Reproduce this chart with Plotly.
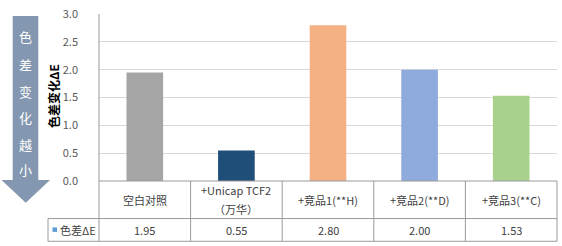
import plotly.graph_objects as go

categories = ["空白对照", "+Unicap TCF2<br>（万华）", "+竞品1(**H)", "+竞品2(**D)", "+竞品3(**C)"]
values = [1.95, 0.55, 2.80, 2.00, 1.53]
value_labels = ["1.95", "0.55", "2.80", "2.00", "1.53"]
bar_colors = ["#A5A5A5", "#1F4E79", "#F4B183", "#8FAADC", "#A9D18E"]
y_ticks = [0.0, 0.5, 1.0, 1.5, 2.0, 2.5, 3.0]
series_name = "色差ΔE"
axis_title = "色差变化ΔE"
arrow_text = "色差变化越小"

W, H = 562, 246
ML, MR, MT, MB = 99, 5, 12, 65
PW, PH = W - ML - MR, H - MT - MB
FONT = "Noto Sans CJK SC, Noto Sans, sans-serif"
LINE = "#9A9A9A"

def px(x):
    return (x - ML) / PW

def py(y):
    return (H - MB - y) / PH

n = len(categories)
xpos = list(range(n))

fig = go.Figure()
fig.add_trace(go.Bar(
    x=xpos, y=values, marker=dict(color=bar_colors, line=dict(width=0)),
    width=0.4, showlegend=False, hoverinfo="skip",
))

shapes = []
annotations = []

row_top, row_mid, row_bot = 181, 219, 242
table_left = 48
shapes.append(dict(type="line", xref="paper", yref="paper", x0=0, x1=1, y0=py(row_top), y1=py(row_top), line=dict(color=LINE, width=1)))
for yy in (row_mid, row_bot):
    shapes.append(dict(type="line", xref="paper", yref="paper", x0=px(table_left), x1=1, y0=py(yy), y1=py(yy), line=dict(color=LINE, width=1)))
shapes.append(dict(type="line", xref="paper", yref="paper", x0=0, x1=0, y0=1, y1=py(row_bot), line=dict(color=LINE, width=1)))
for i in range(1, n + 1):
    xd = i / n
    shapes.append(dict(type="line", xref="x domain", yref="paper", x0=xd, x1=xd, y0=py(row_top), y1=py(row_bot), line=dict(color=LINE, width=1)))
shapes.append(dict(type="line", xref="paper", yref="paper", x0=px(table_left), x1=px(table_left), y0=py(row_mid), y1=py(row_bot), line=dict(color=LINE, width=1)))
shapes.append(dict(type="rect", xref="paper", yref="paper", x0=px(52.5), x1=px(57), y0=py(232.5), y1=py(228), fillcolor="#5B9BD5", line=dict(width=0)))

cat_font = dict(family=FONT, size=11, color="#404040")
for i in range(n):
    xd = (i + 0.5) / n
    lines = categories[i].split("<br>")
    if len(lines) == 1:
        ys = [(row_top + row_mid) / 2]
    else:
        ys = [190.5, 209.5]
    for line_text, yy in zip(lines, ys):
        annotations.append(dict(xref="x domain", yref="paper", x=xd, y=py(yy), text=line_text,
                                showarrow=False, font=cat_font, xanchor="center", yanchor="middle"))
    annotations.append(dict(xref="x domain", yref="paper", x=xd, y=py((row_mid + row_bot) / 2), text=value_labels[i],
                            showarrow=False, font=cat_font, xanchor="center", yanchor="middle"))

annotations.append(dict(xref="paper", yref="paper", x=px(58), y=py(230.5), text=series_name, showarrow=False,
                        font=cat_font, xanchor="left", yanchor="middle"))

annotations.append(dict(xref="paper", yref="paper", x=px(53), y=py(95), text="<b>" + axis_title + "</b>", textangle=-90,
                        showarrow=False, font=dict(family=FONT, size=12, color="#000000"), xanchor="center", yanchor="middle"))

ax0, ax1, atop, abase, hx0, hx1, tip = 12.7, 38.3, 14, 180, 1.5, 50, 203
cx = (hx0 + hx1) / 2
pts = [(ax0, atop), (ax1, atop), (ax1, abase), (hx1, abase), (cx, tip), (hx0, abase), (ax0, abase)]
path = "M " + " L ".join(f"{px(a)},{py(b)}" for a, b in pts) + " Z"
shapes.append(dict(type="path", xref="paper", yref="paper", path=path, fillcolor="#8497B0", line=dict(width=0)))
char_y = [35, 63, 90, 117, 144, 169]
for ch, yy in zip(arrow_text, char_y):
    annotations.append(dict(xref="paper", yref="paper", x=px(25.5), y=py(yy), text=ch, showarrow=False,
                            font=dict(family=FONT, size=13, color="#FFFFFF"), xanchor="center", yanchor="middle"))

fig.update_layout(
    width=W, height=H, margin=dict(l=ML, r=MR, t=MT, b=MB),
    paper_bgcolor="white", plot_bgcolor="white",
    xaxis=dict(range=[-0.5, n - 0.5], showticklabels=False, showgrid=False, zeroline=False, showline=False, ticks=""),
    yaxis=dict(range=[0, 3], tickvals=y_ticks, ticktext=[f"{v:.1f}" for v in y_ticks], showgrid=True, gridcolor="#D9D9D9",
               gridwidth=1, zeroline=False, showline=False, ticks="", ticklabelstandoff=20,
               tickfont=dict(family=FONT, size=11, color="#595959")),
    shapes=shapes, annotations=annotations, bargap=0.6,
)

fig.write_html("out.html")
